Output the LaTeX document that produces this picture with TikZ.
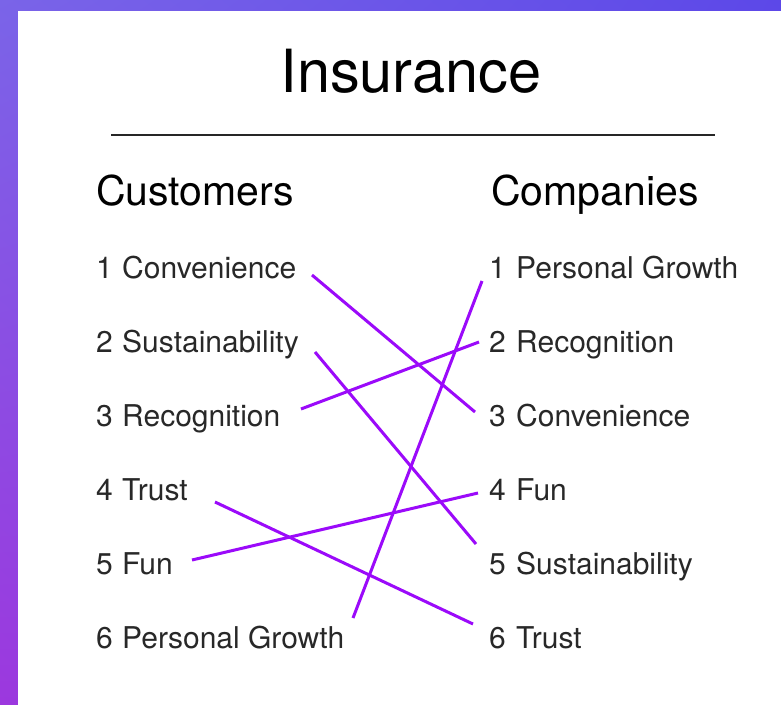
\documentclass[tikz,border=0pt]{standalone}
\usepackage{fontspec}
\usetikzlibrary{shadings}
\setmainfont{TeX Gyre Heros}
\definecolor{linkpurple}{RGB}{155,10,250}
\definecolor{itemgray}{RGB}{40,40,40}
\definecolor{bandtl}{RGB}{122,100,232}
\definecolor{bandtr}{RGB}{92,72,232}
\definecolor{bandbl}{RGB}{156,56,222}
\definecolor{bandbr}{RGB}{120,60,230}
\begin{document}
\begin{tikzpicture}[x=1pt,y=-1pt,
  item/.style={anchor=base west,inner sep=0pt,text=itemgray,font=\fontsize{30}{30}\selectfont},
  head/.style={anchor=base west,inner sep=0pt,font=\fontsize{41}{41}\selectfont},
  link/.style={linkpurple,line width=3pt}]
\useasboundingbox (0,0) rectangle (781,704);

\shade[upper left=bandtl,upper right=bandtr,lower left=bandbl,lower right=bandbr] (0,0) rectangle (781,704);
\fill[white] (18,11) rectangle (785,710);

\node[anchor=base,inner sep=0pt,font=\fontsize{59.5}{59.5}\selectfont] (title) at (411,92) {Insurance};
\draw[line width=1.5pt,black!85] (111,135) -- (715,135);

\node[head] (customers) at (96,205) {Customers};
\node[head] (companies) at (491,205) {Companies};

\foreach \t [count=\i] in {Convenience,Sustainability,Recognition,Trust,Fun,Personal Growth}
  \node[item] (cust\i) at (96,{278+74*(\i-1)}) {\makebox[26pt][l]{\i}\t};
\foreach \t [count=\i] in {Personal Growth,Recognition,Convenience,Fun,Sustainability,Trust}
  \node[item] (comp\i) at (489,{278+74*(\i-1)}) {\makebox[27pt][l]{\i}\t};

% line ends beside the labels
\coordinate (a1) at (312,275);
\coordinate (a2) at (315,352);
\coordinate (a3) at (301,409);
\coordinate (a4) at (215,502);
\coordinate (a5) at (192,560);
\coordinate (a6) at (353,618);
\coordinate (b1) at (482,281);
\coordinate (b2) at (479,342);
\coordinate (b3) at (475,412);
\coordinate (b4) at (478,493);
\coordinate (b5) at (476,544);
\coordinate (b6) at (473,624);

\draw[link] (a1) -- (b3);
\draw[link] (a2) -- (b5);
\draw[link] (a3) -- (b2);
\draw[link] (a4) -- (b6);
\draw[link] (a5) -- (b4);
\draw[link] (a6) -- (b1);

\end{tikzpicture}
\end{document}
